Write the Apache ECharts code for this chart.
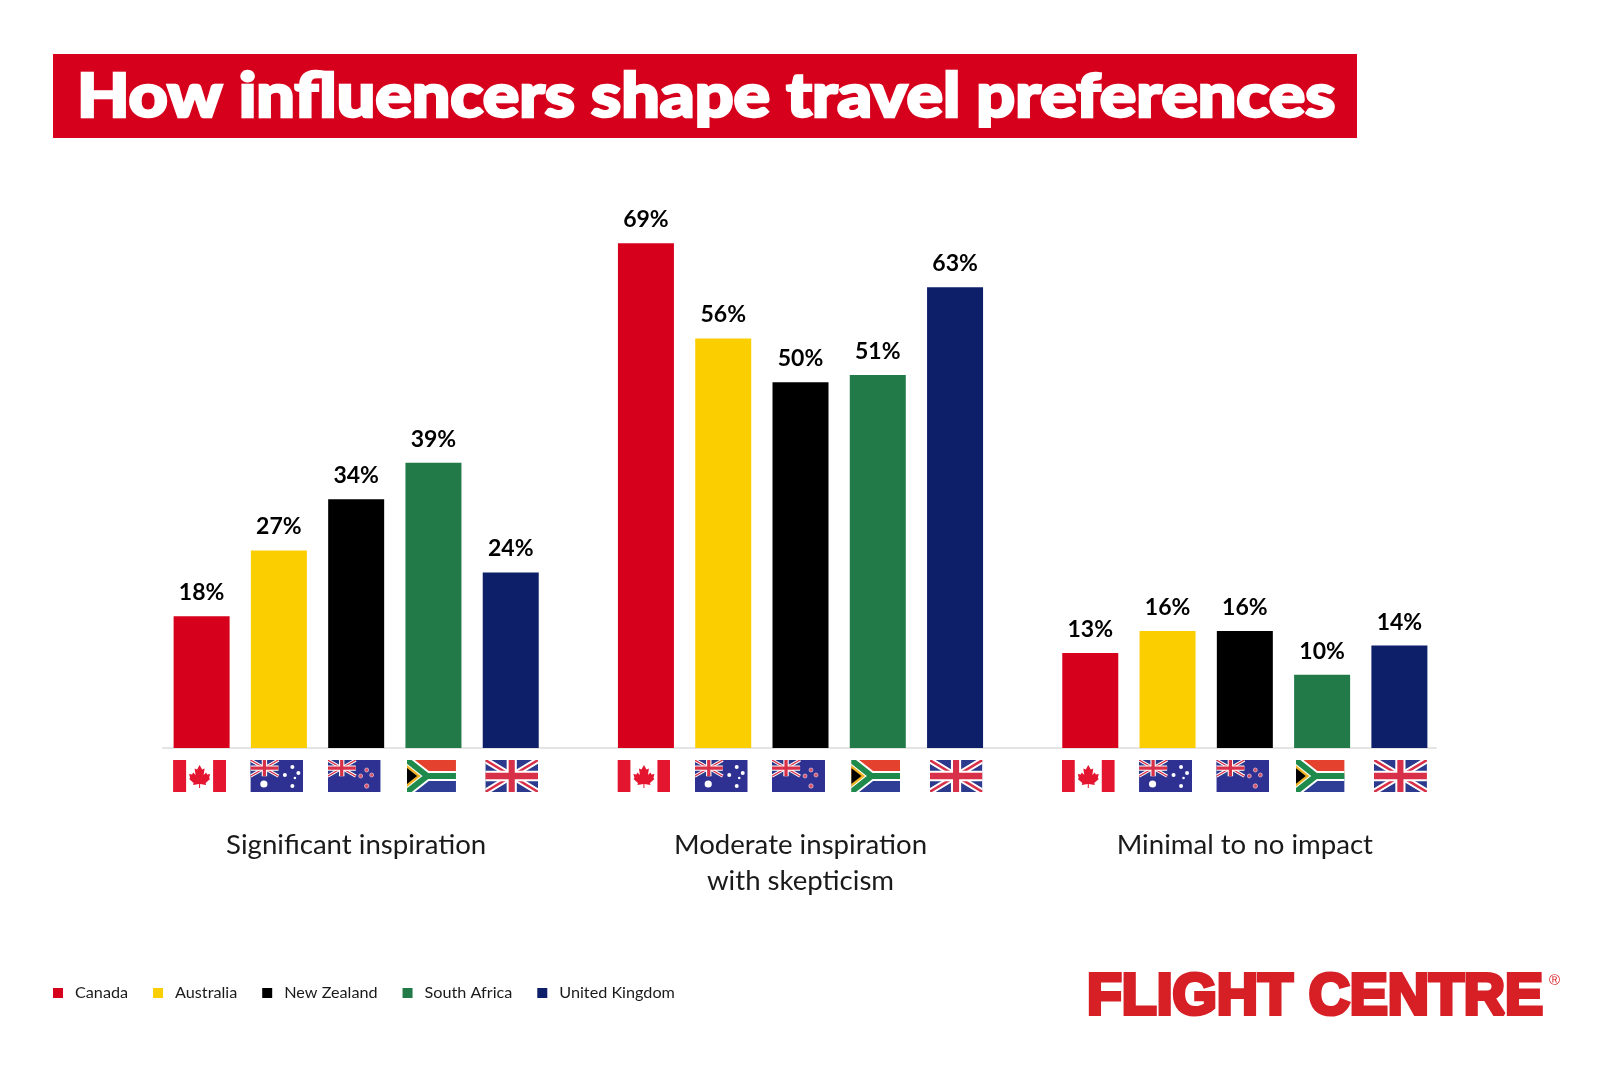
<!DOCTYPE html>
<html>
<head>
<meta charset="utf-8">
<title>How influencers shape travel preferences</title>
<script src="https://cdn.jsdelivr.net/npm/echarts@6/dist/echarts.min.js"></script>
<style>
  html, body { margin: 0; padding: 0; background: #fff; }
  #chart { width: 1600px; height: 1067px; }
</style>
</head>
<body>
<div id="chart"></div>
<script>
  var categories = ['Significant inspiration', 'Moderate inspiration\nwith skepticism', 'Minimal to no impact'];
  var countries = ['Canada', 'Australia', 'New Zealand', 'South Africa', 'United Kingdom'];
  var canada = [18, 69, 13];
  var australia = [27, 56, 16];
  var newZealand = [34, 50, 16];
  var southAfrica = [39, 51, 10];
  var unitedKingdom = [24, 63, 14];
  var colors = ['#D7001C', '#FBCE00', '#000000', '#217A47', '#0D1F69'];
  var seriesValues = [canada, australia, newZealand, southAfrica, unitedKingdom];
  var flagRow = [1, 1, 1];

  var FONT = 'Lato';
  var BAR_WIDTH = 56;
  var BAR_GAP = '38%';
  var FLAG_WIDTHS = [53, 53, 53, 49, 53];
  var FLAG_SHIFTS = [0, 0, 0, 0, 3];

  // flags are small inline svgs, used as pictorial symbols under the bars
  var union = "<path d='M0 0h26v15H0z' fill='#2B3A8C'/>" +
    "<path d='M0 0l26 15M26 0L0 15' stroke='#fff' stroke-width='3'/>" +
    "<path d='M0 0l26 15M26 0L0 15' stroke='#D9304A' stroke-width='1.2'/>" +
    "<path d='M13 0v15M0 7.5h26' stroke='#fff' stroke-width='5'/>" +
    "<path d='M13 0v15M0 7.5h26' stroke='#D9304A' stroke-width='3'/>";
  var canton = "<g transform='scale(1.08)'>" + union + "</g>";

  function flagUri(body, w) {
    var svg = "<svg xmlns='http://www.w3.org/2000/svg' width='" + w + "' height='32' viewBox='0 0 53 32' preserveAspectRatio='none'>" + body + "</svg>";
    return 'image://data:image/svg+xml;charset=utf-8,' + encodeURIComponent(svg);
  }

  var flags = [
    flagUri("<path d='M0 0h53v32H0z' fill='#fff'/><path d='M0 0h13v32H0zM40 0h13v32H40z' fill='#E4152F'/>" +
      "<path fill='#E4152F' d='M26.5 5L29 9.5 31.5 8.5 30.5 15 33 12.5 34 14.5 37 14 36 18 37 19 32.5 23 33 25 27 24 27 28 26 28 26 24 20 25 20.5 23 16 19 17 18 16 14 19 14.5 20 12.5 22.5 15 21.5 8.5 24 9.5z'/>", 53),
    flagUri("<path d='M0 0h53v32H0z' fill='#2E3192'/>" + canton +
      "<g fill='#fff'><circle cx='13.5' cy='24' r='3.6'/><circle cx='42' cy='7' r='2'/><circle cx='34.5' cy='15' r='2'/><circle cx='48' cy='13' r='2'/><circle cx='44.5' cy='18' r='1.3'/><circle cx='42' cy='26' r='2'/></g>", 53),
    flagUri("<path d='M0 0h53v32H0z' fill='#2E3192'/>" + canton +
      "<g fill='#D9506A' stroke='#e8dde8' stroke-width='.6'><circle cx='39' cy='10' r='2'/><circle cx='33' cy='16' r='2'/><circle cx='44' cy='15' r='2'/><circle cx='39' cy='26' r='2.2'/></g>", 53),
    flagUri("<path d='M0 0h53v16H0z' fill='#E4412F'/><path d='M0 16h53v16H0z' fill='#2E3E96'/>" +
      "<path d='M0 0l22 16L0 32M22 16h31' fill='none' stroke='#fff' stroke-width='10'/>" +
      "<path d='M0 0l22 16L0 32M22 16h31' fill='none' stroke='#1E8A4B' stroke-width='6'/>" +
      "<path d='M0 5l15 11L0 27z' fill='#F0B323'/><path d='M0 8l11 8L0 24z' fill='#000'/>", 49),
    flagUri("<svg width='53' height='32' viewBox='0 0 26 15' preserveAspectRatio='none'>" + union + "</svg>", 53)
  ];

  var barSeries = countries.map(function (name, i) {
    return {
      name: name,
      type: 'bar',
      data: seriesValues[i],
      barWidth: BAR_WIDTH,
      barGap: BAR_GAP,
      itemStyle: { color: colors[i] },
      label: {
        show: true,
        position: 'top',
        distance: 12,
        formatter: '{c}%',
        fontFamily: FONT,
        fontWeight: 'bold',
        fontSize: 23,
        color: '#000'
      }
    };
  });

  var flagSeries = countries.map(function (name, i) {
    return {
      name: name + ' flag',
      type: 'pictorialBar',
      xAxisIndex: 1,
      yAxisIndex: 1,
      data: flagRow,
      symbol: flags[i],
      symbolSize: [FLAG_WIDTHS[i], 32],
      symbolOffset: [FLAG_SHIFTS[i], 0],
      symbolPosition: 'start',
      barWidth: BAR_WIDTH,
      barGap: BAR_GAP,
      silent: true
    };
  });

  var option = {
    animation: false,
    backgroundColor: '#fff',
    legend: {
      data: countries,
      left: 53,
      top: 985,
      padding: 0,
      itemWidth: 10,
      itemHeight: 10,
      itemGap: 25,
      icon: 'rect',
      textStyle: { fontFamily: FONT, fontSize: 16.2, color: '#1a1a1a', padding: [0, 0, 0, 7] }
    },
    grid: [
      { left: 134, right: 133, top: 236, height: 512 },
      { left: 132, right: 135, top: 760, height: 32 },
      { left: 163, width: 1273, top: 236, height: 512 }
    ],
    xAxis: [
      {
        type: 'category',
        data: categories,
        axisLine: { show: false },
        axisTick: { show: false },
        axisLabel: {
          margin: 79,
          fontFamily: FONT,
          fontSize: 27.6,
          lineHeight: 36,
          color: '#1a1a1a',
          interval: 0
        }
      },
      { type: 'category', gridIndex: 1, data: categories, show: false },
      {
        type: 'category',
        gridIndex: 2,
        data: [],
        axisLine: { lineStyle: { color: '#E4E4E4', width: 2 } },
        axisTick: { show: false },
        axisLabel: { show: false }
      }
    ],
    yAxis: [
      { type: 'value', min: 0, max: 70, show: false },
      { type: 'value', gridIndex: 1, min: 0, max: 1, show: false },
      { type: 'value', gridIndex: 2, min: 0, max: 70, show: false }
    ],
    series: barSeries.concat(flagSeries),
    graphic: [
      {
        type: 'rect',
        shape: { x: 53, y: 54, width: 1304, height: 84 },
        style: { fill: '#D7001C' }
      },
      {
        // heavy humanist title: Lato black, widened and thickened a bit
        type: 'text',
        x: 77,
        y: 98,
        scaleX: 1.135,
        style: {
          text: 'How influencers shape travel preferences',
          fontFamily: FONT,
          fontWeight: 900,
          fontSize: 60,
          verticalAlign: 'middle',
          fill: '#fff',
          stroke: '#fff',
          lineWidth: 2.5
        }
      },
      {
        type: 'text',
        left: 1085,
        top: 968,
        style: {
          text: 'FLIGHT CENTRE',
          fontFamily: 'Liberation Sans',
          fontWeight: 'bold',
          fontSize: 57,
          fill: '#D71F26',
          stroke: '#D71F26',
          lineWidth: 4
        }
      },
      {
        type: 'text',
        left: 1549,
        top: 973,
        style: { text: '®', fontFamily: 'Liberation Sans', fontSize: 15, fill: '#D71F26' }
      }
    ]
  };

  var myChart = echarts.init(document.getElementById('chart'), null, { renderer: 'canvas' });
  myChart.setOption(option);
</script>
</body>
</html>
